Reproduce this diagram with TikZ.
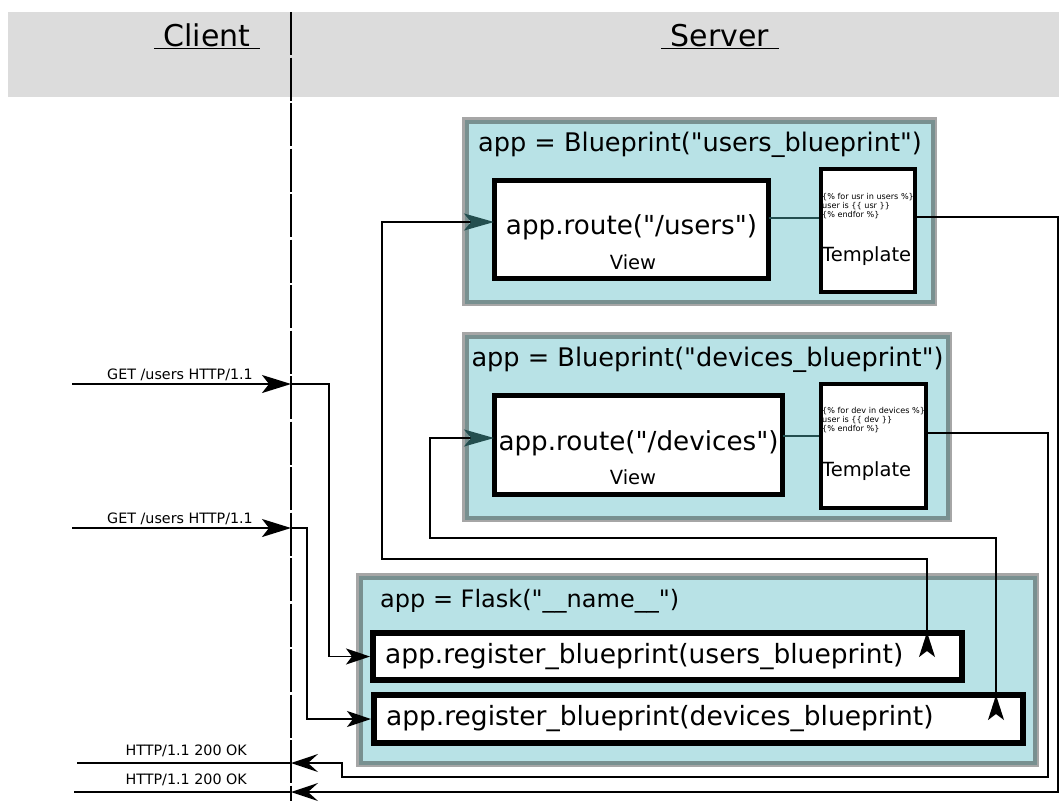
\documentclass[tikz,border=0pt]{standalone}
\usepackage{fontspec}
\setmainfont{DejaVu Sans}
\usetikzlibrary{arrows.meta}
\newcommand{\dq}{\textquotedbl}
\definecolor{headgray}{HTML}{DCDCDC}
\definecolor{framefill}{HTML}{B8E2E6}
\definecolor{framedark}{HTML}{789090}
\definecolor{framelight}{HTML}{A6A6A6}
\definecolor{linkteal}{HTML}{234E4F}
\tikzstyle{box_frame} = [draw=framedark, line width=4pt, fill=framefill, preaction={draw=framelight, line width=9pt}, inner sep=0pt]
\tikzstyle{box_view} = [draw, line width=5pt, fill=white, inner sep=0pt, text depth=9pt, font=\fontsize{26.2}{30}\selectfont]
\tikzstyle{box_template} = [draw, line width=4pt, fill=white, inner sep=0pt]
\tikzstyle{box_register} = [draw, line width=6pt, fill=white, inner xsep=12pt, inner ysep=0pt, align=left, font=\fontsize{26.5}{30}\selectfont]
\tikzstyle{txt_head} = [font=\fontsize{30}{34}\selectfont, inner sep=0pt, anchor=base]
\tikzstyle{txt_title} = [font=\fontsize{25.6}{30}\selectfont, inner sep=0pt]
\tikzstyle{txt_small} = [font=\fontsize{19.5}{22}\selectfont, inner sep=0pt]
\tikzstyle{txt_tiny} = [font=\fontsize{8.1}{9}\selectfont, inner sep=0pt, align=left, anchor=north west]
\tikzstyle{txt_msg} = [font=\fontsize{14.3}{16}\selectfont, inner sep=0pt, anchor=base east]
\tikzstyle{life_line} = [line width=2pt, dash pattern=on 43pt off 2.5pt]
\tikzstyle{req_edge} = [line width=2pt, -{Stealth[length=29pt, width=18pt, inset=7pt]}]
\tikzstyle{resp_edge} = [line width=1.6pt, -{Stealth[length=27pt, width=18pt, inset=10pt]}]
\tikzstyle{reg_edge} = [line width=1.6pt, -{Stealth[length=24pt, width=16pt, inset=6pt]}]
\tikzstyle{bp_edge} = [line width=1.6pt, {Stealth[length=30pt, width=17pt, inset=7pt, color=linkteal]}-{Stealth[length=25pt, width=16pt, inset=6pt, reversed]}]
\tikzstyle{tmpl_edge} = [line width=1.6pt, draw=linkteal]
\tikzstyle{plain_edge} = [line width=1.6pt]

\begin{document}
\begin{tikzpicture}[x=1pt, y=-1pt]
		\useasboundingbox (0,0) rectangle (1059,801);
		\node (header) at (533.5,54.5) [fill=headgray, minimum width=1051pt, minimum height=85pt, inner sep=0pt] {};
		\node (client) at (207,46) [txt_head] {\underline{\ Client\ }};
		\node (server) at (720,46) [txt_head] {\underline{\ Server\ }};
		\coordinate (lifetop) at (291,12);
		\coordinate (lifebot) at (291,801);
		\draw[life_line] (lifetop) -- (lifebot);
		
		\node (bpusers) at (699.5,211.5) [box_frame, minimum width=466pt, minimum height=180pt] {};
		\node (bpdevices) at (707,427) [box_frame, minimum width=481pt, minimum height=181pt] {};
		\node (flaskapp) at (697.5,670) [box_frame, minimum width=674pt, minimum height=185pt] {};
		\node (bpuserstitle) at (700,145) [txt_title] {app = Blueprint(\dq users\_blueprint\dq)};
		\node (bpdevicestitle) at (707.5,360) [txt_title] {app = Blueprint(\dq devices\_blueprint\dq)};
		\node (flasktitle) at (380,601) [txt_title, anchor=west, font=\fontsize{24}{28}\selectfont] {app = Flask(\dq\_\_name\_\_\dq)};
		
		\node (view1) at (631.5,229.5) [box_view, minimum width=274pt, minimum height=98pt] {app.route(\dq/users\dq)};
		\node (view1tag) at (633,269) [txt_small, anchor=base] {View};
		\node (view2) at (638.5,445) [box_view, minimum width=288pt, minimum height=99pt] {app.route(\dq/devices\dq)};
		\node (view2tag) at (633,484) [txt_small, anchor=base] {View};
		
		\node (tmpl1) at (868,230.5) [box_template, minimum width=94pt, minimum height=123pt] {};
		\node (tmpl1code) at (822,193) [txt_tiny] {\{\% for usr in users \%\}\\user is \{\{ usr \}\}\\\{\% endfor \%\}};
		\node (tmpl1tag) at (822,261) [txt_small, anchor=base west] {Template};
		\node (tmpl2) at (873.5,446) [box_template, minimum width=105pt, minimum height=124pt] {};
		\node (tmpl2code) at (822,407) [txt_tiny] {\{\% for dev in devices \%\}\\user is \{\{ dev \}\}\\\{\% endfor \%\}};
		\node (tmpl2tag) at (822,476) [txt_small, anchor=base west] {Template};
		
		\node (regusers) at (667.5,656.5) [box_register, text width=565pt, minimum height=47pt] {app.register\_blueprint(users\_blueprint)};
		\node (regdevices) at (698.5,719) [box_register, text width=625pt, minimum height=48pt] {app.register\_blueprint(devices\_blueprint)};
		
		\coordinate (get1from) at (72,384);
		\coordinate (get1at) at (291,384);
		\coordinate (get2from) at (72,528);
		\coordinate (get2at) at (291,528);
		\node (get1lbl) at (253,379) [txt_msg] {GET /users HTTP/1.1};
		\node (get2lbl) at (253,523) [txt_msg] {GET /users HTTP/1.1};
		\draw[req_edge] (get1from) -- (get1at);
		\draw[req_edge] (get2from) -- (get2at);
		\draw[reg_edge] (get1at) -- (329,384) |- (regusers.west);
		\draw[reg_edge] (get2at) -- (307,528) |- (regdevices.west);
		
		\coordinate (view1out) at (768.5,218);
		\coordinate (view2out) at (782.5,436);
		\draw[tmpl_edge] (view1out) -- (tmpl1.west |- view1out);
		\draw[tmpl_edge] (view2out) -- (tmpl2.west |- view2out);
		
		\coordinate (view1in) at (494,222);
		\coordinate (regusersin) at (927,657);
		\coordinate (view2in) at (494,438);
		\coordinate (regdevicesin) at (996,720);
		\draw[bp_edge] (view1in) -| (382,559) -| (regusersin);
		\draw[bp_edge] (view2in) -| (430,538) -| (regdevicesin);
		
		\coordinate (tmpl1out) at (915,217);
		\coordinate (tmpl2out) at (926,433);
		\coordinate (resp1at) at (291,763);
		\coordinate (resp1to) at (77,763);
		\coordinate (resp2at) at (291,792);
		\coordinate (resp2to) at (74,792);
		\draw[resp_edge] (tmpl2out) -- (1048,433) |- (342,777) |- (resp1at);
		\draw[plain_edge] (resp1at) -- (resp1to);
		\node (resp1lbl) at (247,755) [txt_msg] {HTTP/1.1 200 OK};
		\draw[resp_edge] (tmpl1out) -- (1058,217) |- (resp2at);
		\draw[plain_edge] (resp2at) -- (resp2to);
		\node (resp2lbl) at (247,784) [txt_msg] {HTTP/1.1 200 OK};
\end{tikzpicture}
\end{document}
